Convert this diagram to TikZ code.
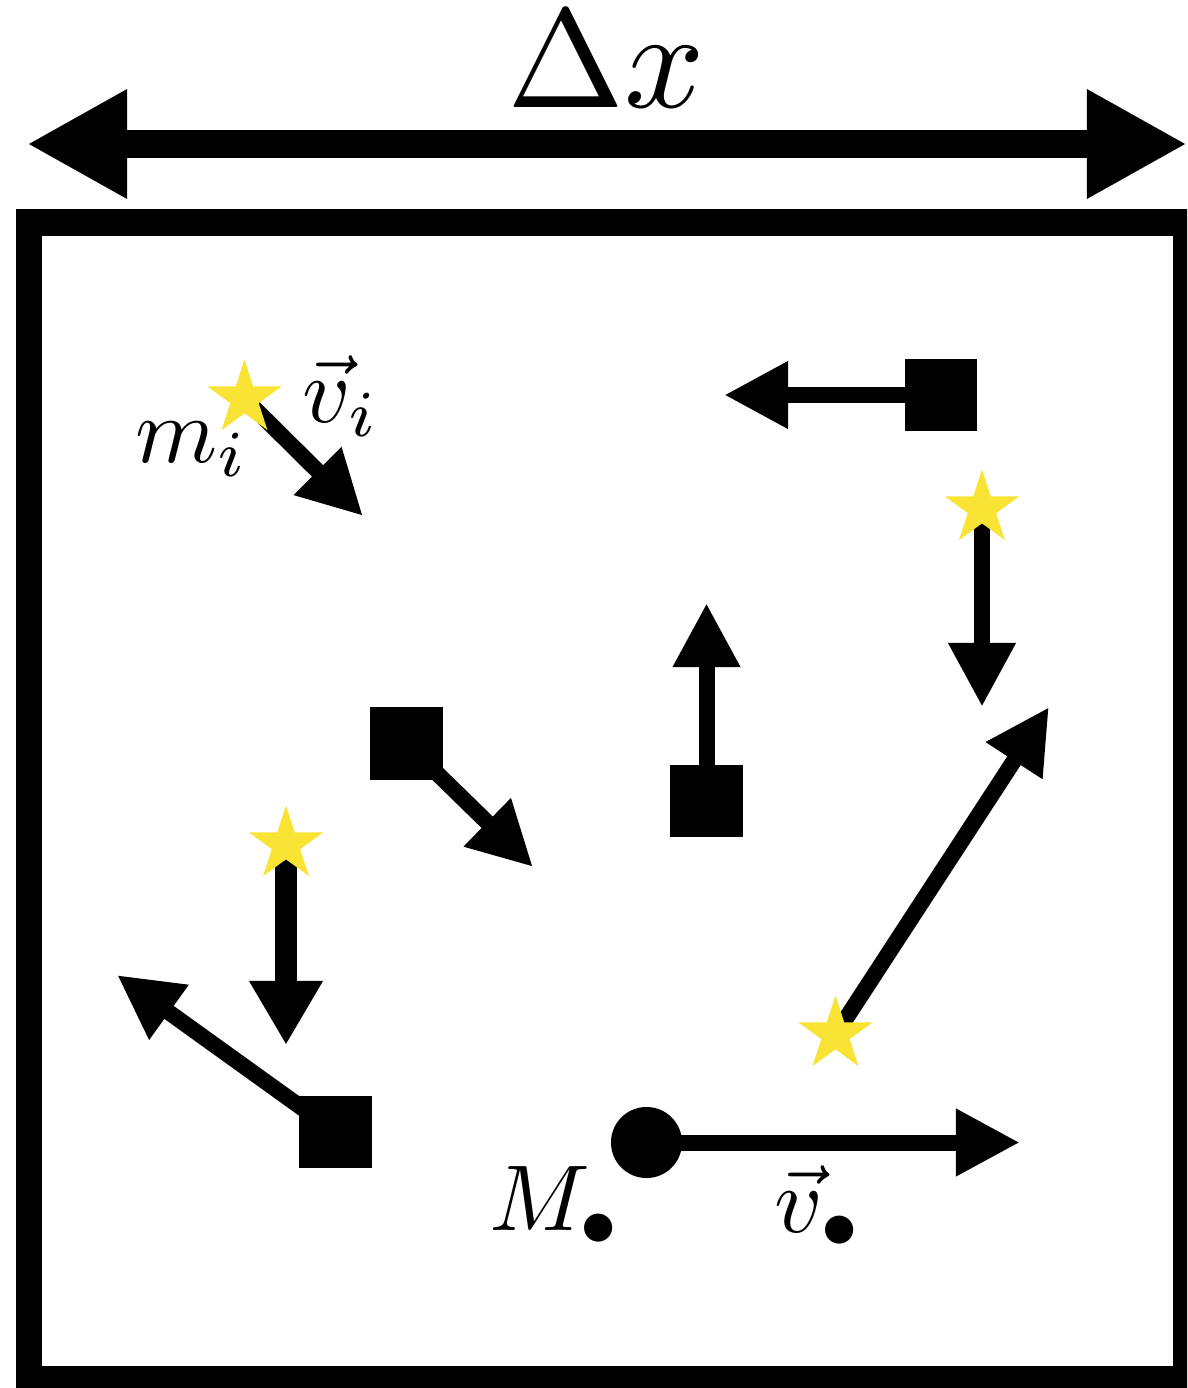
\documentclass[tikz,border=0pt]{standalone}
\usepackage{amsmath}
\definecolor{mlyellow}{RGB}{249,227,52}
\usetikzlibrary{arrows.meta,shapes.geometric,backgrounds}

\begin{document}
\begin{tikzpicture}[x=0.01cm,y=-0.01cm,
    body/.style={fill=black,minimum size=0.72cm,inner sep=0pt},
    starbody/.style={star,star points=5,star point ratio=2.618,fill=mlyellow,
                     minimum size=0.78cm,inner sep=0pt},
    vel/.style={line width=0.16cm,-{Triangle[length=0.64cm,width=0.63cm]}},
    lbl/.style={scale=2.66,inner sep=0pt,anchor=base}]
  \useasboundingbox (0,0) rectangle (1187,1388);

  %% Box of width Delta x
  \begin{scope}
    \clip (0,0) rectangle (1187,1388);
    \draw[line width=0.26cm] (29,222.5) rectangle (1186,1379);
  \end{scope}
  \coordinate (dxL) at (27,144);
  \coordinate (dxR) at (1187,144);
  \draw[line width=0.27cm,
        {Triangle[length=1cm,width=1.02cm]}-{Triangle[length=1cm,width=1.02cm]}]
        (dxL) -- (dxR);
  \node[scale=4,inner sep=0pt,anchor=base]
        (dx) at (606,108) {$\Delta x$};

  %% Stars
  \node[starbody] (starA) at (244.5,398.5) {};
  \node[starbody] (starB) at (982,508.5) {};
  \node[starbody] (starC) at (286,844.5) {};
  \node[starbody] (starD) at (835.5,1034.5) {};
  %% Square bodies
  \node[body] (sqA) at (941,395) {};
  \node[body] (sqB) at (406.5,743.5) {};
  \node[body] (sqC) at (706.5,801) {};
  \node[body] (sqD) at (335.5,1132) {};
  %% Black hole
  \node[circle,fill=black,minimum size=0.71cm,inner sep=0pt]
        (bh) at (646.5,1142.5) {};

  %% Velocity tips
  \coordinate (tA) at (363,516);
  \coordinate (tB) at (724,395);
  \coordinate (tC) at (982,707);
  \coordinate (tD) at (533,867);
  \coordinate (tE) at (706.5,603);
  \coordinate (tF) at (1049,707);
  \coordinate (tG) at (286,1045);
  \coordinate (tH) at (117,975);
  \coordinate (tI) at (1020,1142.5);

  %% Velocity arrows (under the bodies)
  \begin{scope}[on background layer]
    \draw[vel] (starA.center) -- (tA);
    \draw[vel] (sqA.center) -- (tB);
    \draw[vel] (starB.center) -- (tC);
    \draw[vel] (sqB.center) -- (tD);
    \draw[vel] (sqC.center) -- (tE);
    \draw[vel] (starD.center) -- (tF);
    \draw[line width=0.21cm,-{Triangle[length=0.64cm,width=0.69cm]}]
          (starC.center) -- (tG);
    \draw[vel] (sqD.center) -- (tH);
    \draw[vel] (bh.center) -- (tI);
  \end{scope}

  %% Labels
  \node[lbl] (mi) at (192,462) {$m_i$};
  \node[lbl] (vi) at (341,422) {$\vec{v}_i$};
  \node[lbl] (Mbh) at (556,1230) {$M_\bullet$};
  \node[lbl] (vbh) at (819,1232) {$\vec{v}_\bullet$};
\end{tikzpicture}
\end{document}
